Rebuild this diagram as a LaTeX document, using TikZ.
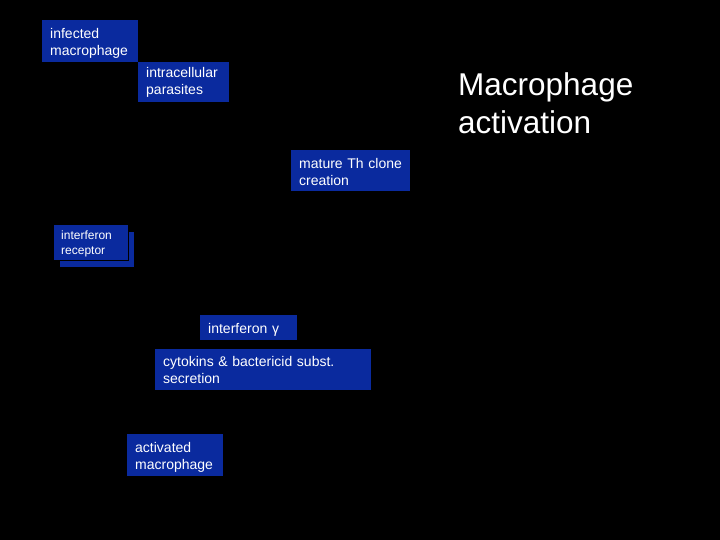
\documentclass[tikz,border=0pt]{standalone}
\usepackage{fontspec}
\setmainfont{Liberation Sans}
\usepackage{tikz}
\usetikzlibrary{positioning}
\definecolor{boxblue}{HTML}{0A2A9E}

\begin{document}
\begin{tikzpicture}[x=1pt, y=-1pt, every node/.style={font=\fontsize{14}{17}\selectfont},
  bluebox/.style={fill=boxblue, text=white, align=left, anchor=north west, inner xsep=8pt, inner ysep=0pt}]
\fill[black] (0,0) rectangle (720,540);
\node[bluebox, text width=80pt, text height=18pt, text depth=24pt] (infected) at (42,20) {infected\\macrophage};
\node[bluebox, text width=75pt, text height=15pt, text depth=25pt] (parasites) at (138,62) {intracellular\\parasites};
\node[text=white, anchor=base west, align=left, inner sep=0pt, font=\fontsize{31.5}{38}\selectfont] (title) at (458,134) {Macrophage\\activation};
\node[bluebox, text width=103pt, text height=18pt, text depth=23pt] (thclone) at (291,150) {mature Th clone\\creation};
% receptor drawn twice, slightly shifted
\node[bluebox, draw=black, text width=59pt, text height=15pt, text depth=21pt] (receptorback) at (59,231) {};
\node[bluebox, draw=black, text width=59pt, text height=15pt, text depth=21pt, font=\fontsize{12}{15}\selectfont] (receptor) at (53,224) {interferon\\receptor};
\node[bluebox, text width=81pt, text height=18pt, text depth=7pt] (ifng) at (200,315) {interferon γ};
\node[bluebox, text width=200pt, text height=17pt, text depth=24pt] (cytokins) at (155,349) {cytokins \& bactericid subst.\\secretion};
\node[bluebox, text width=80pt, text height=18pt, text depth=24pt] (activated) at (127,434) {activated\\macrophage};
\end{tikzpicture}
\end{document}
